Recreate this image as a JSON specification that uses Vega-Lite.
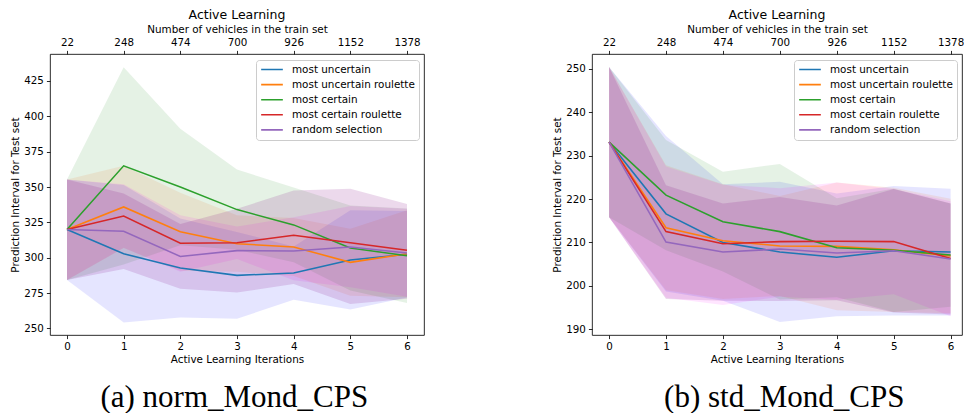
{
 "$schema": "https://vega.github.io/schema/vega-lite/v6.json",
 "padding": {"left": 10, "top": 8, "right": 0, "bottom": 0},
 "background": "white",
 "config": {
  "font": "DejaVu Sans",
  "view": {"stroke": "black", "strokeWidth": 0.83},
  "axis": {"grid": false, "domain": false, "tickColor": "black", "tickWidth": 0.83, "tickSize": 3.6, "labelColor": "black", "labelFontSize": 10.3, "labelPadding": 3, "titleFontSize": 10.4, "titleFontWeight": "normal", "titleColor": "black", "labelFont": "DejaVu Sans", "titleFont": "DejaVu Sans", "titlePadding": 3},
  "legend": {"orient": "top-right", "offset": 5.5, "symbolType": "stroke", "symbolSize": 470, "symbolStrokeWidth": 1.56, "labelFontSize": 10.4, "labelColor": "black", "labelFont": "DejaVu Sans", "clipHeight": 11, "rowPadding": 4.1, "padding": 4, "fillColor": "rgba(255,255,255,0.8)", "strokeColor": "#cccccc", "cornerRadius": 3, "labelOffset": 8}
 },
 "datasets": {
  "a": [
   {"series": "most uncertain", "it": 0, "mean": 320, "lo": 284.2, "hi": 355.3},
   {"series": "most uncertain", "it": 1, "mean": 302.8, "lo": 254.2, "hi": 351.4},
   {"series": "most uncertain", "it": 2, "mean": 292.7, "lo": 257.7, "hi": 327.7},
   {"series": "most uncertain", "it": 3, "mean": 287.5, "lo": 256.8, "hi": 318.2},
   {"series": "most uncertain", "it": 4, "mean": 289.1, "lo": 270.2, "hi": 308},
   {"series": "most uncertain", "it": 5, "mean": 298.3, "lo": 263.4, "hi": 333.5},
   {"series": "most uncertain", "it": 6, "mean": 302.4, "lo": 271.9, "hi": 333},
   {"series": "most uncertain roulette", "it": 0, "mean": 320, "lo": 284.2, "hi": 355.3},
   {"series": "most uncertain roulette", "it": 1, "mean": 335.9, "lo": 306.8, "hi": 365},
   {"series": "most uncertain roulette", "it": 2, "mean": 318.4, "lo": 290.8, "hi": 346},
   {"series": "most uncertain roulette", "it": 3, "mean": 309.9, "lo": 290, "hi": 330},
   {"series": "most uncertain roulette", "it": 4, "mean": 307.6, "lo": 287, "hi": 328},
   {"series": "most uncertain roulette", "it": 5, "mean": 296.7, "lo": 273, "hi": 320.4},
   {"series": "most uncertain roulette", "it": 6, "mean": 302.8, "lo": 272, "hi": 333.6},
   {"series": "most certain", "it": 0, "mean": 320, "lo": 284.2, "hi": 355.3},
   {"series": "most certain", "it": 1, "mean": 365, "lo": 295.2, "hi": 434.8},
   {"series": "most certain", "it": 2, "mean": 350, "lo": 308.8, "hi": 391.2},
   {"series": "most certain", "it": 3, "mean": 334, "lo": 305.6, "hi": 362.4},
   {"series": "most certain", "it": 4, "mean": 323.2, "lo": 296.8, "hi": 349.6},
   {"series": "most certain", "it": 5, "mean": 306.9, "lo": 276.8, "hi": 337},
   {"series": "most certain", "it": 6, "mean": 301.4, "lo": 268, "hi": 334.8},
   {"series": "most certain roulette", "it": 0, "mean": 320, "lo": 284.2, "hi": 355.3},
   {"series": "most certain roulette", "it": 1, "mean": 329.5, "lo": 307, "hi": 352},
   {"series": "most certain roulette", "it": 2, "mean": 310.2, "lo": 290, "hi": 330},
   {"series": "most certain roulette", "it": 3, "mean": 310.6, "lo": 299, "hi": 322},
   {"series": "most certain roulette", "it": 4, "mean": 315.8, "lo": 284, "hi": 328.6},
   {"series": "most certain roulette", "it": 5, "mean": 310.6, "lo": 279, "hi": 336.5},
   {"series": "most certain roulette", "it": 6, "mean": 305.2, "lo": 272.4, "hi": 334.6},
   {"series": "random selection", "it": 0, "mean": 320, "lo": 284.2, "hi": 355.3},
   {"series": "random selection", "it": 1, "mean": 318.7, "lo": 292, "hi": 345.4},
   {"series": "random selection", "it": 2, "mean": 300.9, "lo": 278, "hi": 323.8},
   {"series": "random selection", "it": 3, "mean": 305, "lo": 275.4, "hi": 334.6},
   {"series": "random selection", "it": 4, "mean": 304.7, "lo": 281.3, "hi": 347.5},
   {"series": "random selection", "it": 5, "mean": 307.6, "lo": 267.2, "hi": 348.7},
   {"series": "random selection", "it": 6, "mean": 303.3, "lo": 271, "hi": 338}
  ],
  "b": [
   {"series": "most uncertain", "it": 0, "mean": 233.1, "lo": 215.8, "hi": 250.4},
   {"series": "most uncertain", "it": 1, "mean": 216.6, "lo": 198.7, "hi": 234.5},
   {"series": "most uncertain", "it": 2, "mean": 210, "lo": 196.6, "hi": 223.4},
   {"series": "most uncertain", "it": 3, "mean": 207.8, "lo": 191.7, "hi": 224},
   {"series": "most uncertain", "it": 4, "mean": 206.6, "lo": 193, "hi": 221.3},
   {"series": "most uncertain", "it": 5, "mean": 208.1, "lo": 193.2, "hi": 223},
   {"series": "most uncertain", "it": 6, "mean": 207.8, "lo": 193.2, "hi": 222.4},
   {"series": "most uncertain roulette", "it": 0, "mean": 233.1, "lo": 215.8, "hi": 250.4},
   {"series": "most uncertain roulette", "it": 1, "mean": 213.4, "lo": 199, "hi": 227.8},
   {"series": "most uncertain roulette", "it": 2, "mean": 210.4, "lo": 197, "hi": 223.4},
   {"series": "most uncertain roulette", "it": 3, "mean": 209.2, "lo": 197.7, "hi": 220.7},
   {"series": "most uncertain roulette", "it": 4, "mean": 209.1, "lo": 194.4, "hi": 223.8},
   {"series": "most uncertain roulette", "it": 5, "mean": 208.3, "lo": 194, "hi": 222.6},
   {"series": "most uncertain roulette", "it": 6, "mean": 206.9, "lo": 193.7, "hi": 220.1},
   {"series": "most certain", "it": 0, "mean": 233.1, "lo": 215.8, "hi": 250.4},
   {"series": "most certain", "it": 1, "mean": 220.9, "lo": 208.2, "hi": 233.6},
   {"series": "most certain", "it": 2, "mean": 214.8, "lo": 203.3, "hi": 226.3},
   {"series": "most certain", "it": 3, "mean": 212.5, "lo": 196.9, "hi": 228.1},
   {"series": "most certain", "it": 4, "mean": 208.8, "lo": 197.4, "hi": 220.2},
   {"series": "most certain", "it": 5, "mean": 208.2, "lo": 194, "hi": 222.4},
   {"series": "most certain", "it": 6, "mean": 207.1, "lo": 195.2, "hi": 219},
   {"series": "most certain roulette", "it": 0, "mean": 233.1, "lo": 215.8, "hi": 250.4},
   {"series": "most certain roulette", "it": 1, "mean": 212.5, "lo": 197.3, "hi": 227.5},
   {"series": "most certain roulette", "it": 2, "mean": 209.7, "lo": 195.6, "hi": 223.3},
   {"series": "most certain roulette", "it": 3, "mean": 210.2, "lo": 197.5, "hi": 222.5},
   {"series": "most certain roulette", "it": 4, "mean": 210.3, "lo": 196.8, "hi": 223.8},
   {"series": "most certain roulette", "it": 5, "mean": 210.2, "lo": 198.1, "hi": 222.3},
   {"series": "most certain roulette", "it": 6, "mean": 206.3, "lo": 193, "hi": 219.5},
   {"series": "random selection", "it": 0, "mean": 233.1, "lo": 215.8, "hi": 250.4},
   {"series": "random selection", "it": 1, "mean": 210.1, "lo": 197, "hi": 223.2},
   {"series": "random selection", "it": 2, "mean": 207.8, "lo": 196.6, "hi": 219},
   {"series": "random selection", "it": 3, "mean": 208.5, "lo": 196.5, "hi": 220.5},
   {"series": "random selection", "it": 4, "mean": 207.6, "lo": 196.7, "hi": 218.5},
   {"series": "random selection", "it": 5, "mean": 208.1, "lo": 193.9, "hi": 222.3},
   {"series": "random selection", "it": 6, "mean": 206.2, "lo": 193.4, "hi": 219}
  ]
 },
 "spacing": 127,
 "hconcat": [
  {
   "title": {"text": "(a) norm_Mond_CPS", "orient": "bottom", "anchor": "middle", "font": "Liberation Serif", "fontSize": 31, "fontWeight": "normal", "color": "black", "offset": 17, "dx": 17},
   "vconcat": [
    {
     "width": 374, "height": 281,
     "title": {"text": "Active Learning", "fontSize": 12.5, "fontWeight": "normal", "color": "black", "font": "DejaVu Sans", "offset": 3},
     "data": {"name": "a"},
     "layer": [
      {
       "mark": {"type": "area"},
       "encoding": {
        "x": {"field": "it", "type": "quantitative", "scale": {"domain": [-0.3, 6.3], "nice": false, "zero": false}, "axis": {"orient": "bottom", "values": [0, 1, 2, 3, 4, 5, 6], "format": "d", "title": "Active Learning Iterations"}},
        "y": {"field": "lo", "type": "quantitative", "scale": {"domain": [245.3, 444.1], "nice": false, "zero": false}, "axis": {"values": [250, 275, 300, 325, 350, 375, 400, 425]}, "title": "Prediction Interval for Test set"},
        "y2": {"field": "hi"},
        "color": {"field": "series", "type": "nominal", "scale": {"domain": ["most uncertain", "most uncertain roulette", "most certain", "most certain roulette", "random selection"], "range": ["rgba(0,0,255,0.1)", "rgba(255,90,0,0.1)", "rgba(0,128,0,0.1)", "rgba(255,0,255,0.1)", "rgba(128,0,128,0.15)"]}, "legend": null}
       }
      },
      {
       "mark": {"type": "line", "strokeWidth": 1.56},
       "encoding": {
        "x": {"field": "it", "type": "quantitative", "axis": null},
        "y": {"field": "mean", "type": "quantitative", "title": "Prediction Interval for Test set"},
        "color": {"field": "series", "type": "nominal", "scale": {"domain": ["most uncertain", "most uncertain roulette", "most certain", "most certain roulette", "random selection"], "range": ["#1f77b4", "#ff7f0e", "#2ca02c", "#d62728", "#9467bd"]}, "legend": {"title": null, "orient": "top-right"}}
       }
      },
      {
       "mark": {"type": "line", "strokeOpacity": 0},
       "encoding": {
        "x": {"field": "it", "type": "quantitative", "axis": {"orient": "top", "values": [0, 1, 2, 3, 4, 5, 6], "labelExpr": "format(datum.value * 226 + 22, 'd')", "title": "Number of vehicles in the train set"}},
        "y": {"field": "mean", "type": "quantitative", "title": "Prediction Interval for Test set"}
       }
      }
     ],
     "resolve": {"axis": {"x": "independent"}, "scale": {"color": "independent"}, "legend": {"color": "independent"}}
    }
   ],
   "resolve": {"scale": {"color": "independent"}, "legend": {"color": "independent"}}
  },
  {
   "title": {"text": "(b) std_Mond_CPS", "orient": "bottom", "anchor": "middle", "font": "Liberation Serif", "fontSize": 31, "fontWeight": "normal", "color": "black", "offset": 17, "dx": 26},
   "vconcat": [
    {
     "width": 370, "height": 281,
     "title": {"text": "Active Learning", "fontSize": 12.5, "fontWeight": "normal", "color": "black", "font": "DejaVu Sans", "offset": 3},
     "data": {"name": "b"},
     "layer": [
      {
       "mark": {"type": "area"},
       "encoding": {
        "x": {"field": "it", "type": "quantitative", "scale": {"domain": [-0.3, 6.2], "nice": false, "zero": false}, "axis": {"orient": "bottom", "values": [0, 1, 2, 3, 4, 5, 6], "format": "d", "title": "Active Learning Iterations"}},
        "y": {"field": "lo", "type": "quantitative", "scale": {"domain": [188.7, 253.4], "nice": false, "zero": false}, "axis": {"values": [190, 200, 210, 220, 230, 240, 250]}, "title": "Prediction Interval for Test set"},
        "y2": {"field": "hi"},
        "color": {"field": "series", "type": "nominal", "scale": {"domain": ["most uncertain", "most uncertain roulette", "most certain", "most certain roulette", "random selection"], "range": ["rgba(0,0,255,0.1)", "rgba(255,90,0,0.1)", "rgba(0,128,0,0.1)", "rgba(255,0,255,0.1)", "rgba(128,0,128,0.15)"]}, "legend": null}
       }
      },
      {
       "mark": {"type": "line", "strokeWidth": 1.56},
       "encoding": {
        "x": {"field": "it", "type": "quantitative", "axis": null},
        "y": {"field": "mean", "type": "quantitative", "title": "Prediction Interval for Test set"},
        "color": {"field": "series", "type": "nominal", "scale": {"domain": ["most uncertain", "most uncertain roulette", "most certain", "most certain roulette", "random selection"], "range": ["#1f77b4", "#ff7f0e", "#2ca02c", "#d62728", "#9467bd"]}, "legend": {"title": null, "orient": "top-right"}}
       }
      },
      {
       "mark": {"type": "line", "strokeOpacity": 0},
       "encoding": {
        "x": {"field": "it", "type": "quantitative", "axis": {"orient": "top", "values": [0, 1, 2, 3, 4, 5, 6], "labelExpr": "format(datum.value * 226 + 22, 'd')", "title": "Number of vehicles in the train set"}},
        "y": {"field": "mean", "type": "quantitative", "title": "Prediction Interval for Test set"}
       }
      }
     ],
     "resolve": {"axis": {"x": "independent"}, "scale": {"color": "independent"}, "legend": {"color": "independent"}}
    }
   ],
   "resolve": {"scale": {"color": "independent"}, "legend": {"color": "independent"}}
  }
 ],
 "resolve": {"scale": {"color": "independent"}, "legend": {"color": "independent"}}
}
